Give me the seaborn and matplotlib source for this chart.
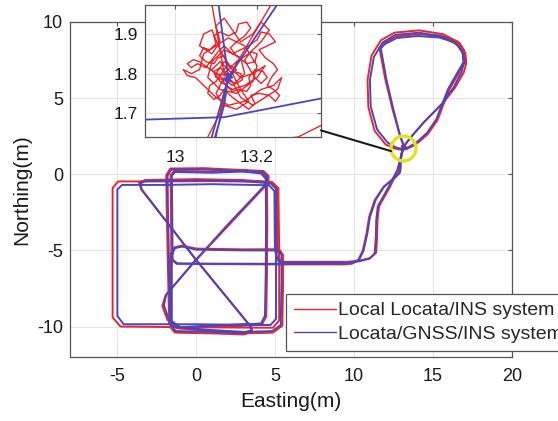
import matplotlib
matplotlib.use("Agg")
import matplotlib.pyplot as plt
import numpy as np
import pandas as pd
import seaborn as sns
from matplotlib.patches import ConnectionPatch
from matplotlib.lines import Line2D

# ---------------- data ----------------
series_names = ["Local Locata/INS system", "Locata/GNSS/INS system"]

# stationary start of the local Locata/INS solution (noise cluster seen in the inset)
local_static = [
    (13.130, 1.790), (13.150, 1.810), (13.120, 1.830), (13.100, 1.800), (13.140, 1.770),
    (13.170, 1.800), (13.160, 1.840), (13.120, 1.860), (13.090, 1.830), (13.080, 1.790),
    (13.110, 1.760), (13.150, 1.750), (13.190, 1.780), (13.200, 1.820), (13.170, 1.870),
    (13.130, 1.890), (13.100, 1.870), (13.070, 1.850), (13.060, 1.810), (13.040, 1.800),
    (13.020, 1.810), (13.030, 1.795), (13.050, 1.790), (13.070, 1.770), (13.100, 1.740),
    (13.130, 1.720), (13.170, 1.730), (13.210, 1.760), (13.240, 1.770), (13.260, 1.790),
    (13.250, 1.760), (13.220, 1.740), (13.190, 1.720), (13.160, 1.740), (13.140, 1.780),
    (13.120, 1.800), (13.150, 1.830), (13.180, 1.850), (13.210, 1.880), (13.230, 1.910),
    (13.210, 1.930), (13.190, 1.900), (13.160, 1.880), (13.140, 1.910), (13.120, 1.940),
    (13.100, 1.920), (13.110, 1.880), (13.090, 1.850), (13.060, 1.870), (13.070, 1.900),
    (13.090, 1.910), (13.110, 1.860), (13.130, 1.820), (13.160, 1.790), (13.190, 1.800),
    (13.220, 1.820), (13.200, 1.790), (13.170, 1.770), (13.140, 1.760), (13.110, 1.780),
    (13.090, 1.810), (13.110, 1.830), (13.140, 1.800), (13.160, 1.760), (13.180, 1.730),
    (13.150, 1.710), (13.120, 1.720), (13.100, 1.750), (13.120, 1.790), (13.130, 1.790),
    (13.145, 1.805), (13.160, 1.800), (13.165, 1.785), (13.150, 1.775), (13.135, 1.780),
    (13.125, 1.800), (13.110, 1.815), (13.095, 1.805), (13.100, 1.790), (13.115, 1.785),
    (13.125, 1.770), (13.140, 1.755), (13.155, 1.760), (13.175, 1.755), (13.185, 1.770),
    (13.180, 1.790), (13.195, 1.810), (13.215, 1.805), (13.225, 1.790), (13.210, 1.775),
    (13.195, 1.790), (13.180, 1.815), (13.170, 1.835), (13.185, 1.855), (13.200, 1.850),
    (13.195, 1.830), (13.175, 1.825), (13.150, 1.845), (13.135, 1.865), (13.150, 1.880),
    (13.170, 1.895), (13.185, 1.915), (13.175, 1.930), (13.155, 1.925), (13.150, 1.905),
    (13.130, 1.895), (13.110, 1.905), (13.095, 1.895), (13.100, 1.875), (13.085, 1.860),
    (13.070, 1.865), (13.060, 1.845), (13.075, 1.830), (13.095, 1.825), (13.105, 1.840),
    (13.120, 1.845), (13.130, 1.825), (13.120, 1.810), (13.100, 1.780), (13.085, 1.770),
    (13.080, 1.750), (13.095, 1.735), (13.110, 1.745), (13.120, 1.760), (13.140, 1.740),
    (13.160, 1.725), (13.180, 1.710), (13.195, 1.725), (13.185, 1.745), (13.205, 1.750),
    (13.230, 1.745), (13.245, 1.730), (13.255, 1.745), (13.240, 1.760), (13.225, 1.770),
    (13.235, 1.790), (13.250, 1.810), (13.240, 1.825), (13.220, 1.840), (13.205, 1.860),
    (13.225, 1.870), (13.245, 1.880), (13.230, 1.900), (13.210, 1.905), (13.200, 1.885),
    (13.180, 1.870), (13.160, 1.860), (13.140, 1.850), (13.120, 1.870), (13.105, 1.855),
    (13.090, 1.835), (13.075, 1.815), (13.055, 1.825), (13.040, 1.815), (13.030, 1.825),
    (13.045, 1.835), (13.060, 1.830), (13.080, 1.815), (13.100, 1.800), (13.125, 1.795),
    (13.130, 1.790),
]

local_track = [
    (13.11, 1.70), (13.08, 1.64), (12.98, 1.30), (12.92, 0.90), (12.90, 0.40), (12.85, 0.05),
    (12.60, -0.20), (11.85, -0.85), (11.30, -1.70), (10.95, -2.80), (10.78, -3.90),
    (10.55, -5.00), (10.25, -5.65), (9.85, -5.88), (9.40, -5.92),
    (5.00, -5.92), (1.00, -5.90), (-1.25, -5.88), (-1.58, -5.60),
    (-1.60, -3.00), (-1.63, -0.05), (-1.40, 0.22),
    (1.00, 0.18), (3.00, 0.25), (4.15, 0.12), (4.48, -0.25),
    (4.50, -3.00), (4.48, -6.50), (4.43, -9.35), (4.15, -9.88),
    (1.00, -10.02), (-1.20, -10.12), (-1.72, -9.85),
    (-1.80, -6.00), (-1.88, -2.00), (-1.90, -0.05), (-1.65, 0.38),
    (0.50, 0.40), (2.50, 0.30), (4.25, 0.22), (4.58, -0.10), (4.58, -0.55),
    (2.05, -3.35), (-0.12, -5.75), (-1.95, -7.95), (-2.15, -8.65), (-1.82, -9.58), (-1.05, -10.12),
    (0.50, -10.28), (3.00, -10.45), (4.85, -10.40), (5.45, -9.95),
    (5.50, -7.00), (5.50, -5.30), (5.25, -4.92),
    (3.00, -4.93), (0.00, -4.88), (-0.90, -4.68), (-1.40, -4.80), (-1.62, -5.30),
    (-1.62, -8.00), (-1.60, -10.10), (-1.35, -10.40),
    (1.00, -10.45), (3.00, -10.52), (3.55, -10.32),
    (3.45, -10.00), (0.00, -5.62), (-3.50, -0.98), (-3.62, -0.55), (-3.25, -0.38),
    (0.00, -0.32), (3.00, -0.38), (4.80, -0.52), (5.20, -0.90),
    (5.25, -5.00), (5.25, -9.60), (4.85, -10.08), (0.00, -10.05), (-4.80, -10.00),
    (-5.30, -9.40), (-5.30, -5.00), (-5.30, -0.90), (-4.95, -0.47), (-2.00, -0.47),
    (1.00, -0.45), (4.75, -0.50), (5.15, -1.00),
    (5.15, -5.00), (5.30, -5.72), (5.60, -5.75), (7.50, -5.75), (9.60, -5.75),
    (10.35, -5.66), (11.02, -5.50), (11.40, -5.15), (11.45, -4.20), (11.48, -3.00),
    (11.58, -2.10), (12.28, -0.80), (12.80, 0.30), (13.10, 1.64), (13.13, 1.79),
    (13.235, 1.975), (13.72, 2.60), (14.45, 3.45), (15.65, 4.70), (16.40, 5.70),
    (16.95, 6.70), (17.10, 7.30),
    (17.05, 7.95), (16.70, 8.60), (15.65, 9.20), (14.10, 9.45), (12.55, 9.30), (11.70, 8.80),
    (11.10, 7.80), (10.85, 6.20), (10.90, 4.40), (11.30, 2.85), (12.00, 1.95), (12.60, 1.68),
    (13.00, 1.60), (13.30, 1.64), (13.90, 1.95),
    (14.65, 2.62), (15.28, 3.55), (15.68, 4.65), (16.05, 5.60), (16.60, 6.60), (17.05, 7.45),
    (16.95, 8.15), (16.50, 8.75), (15.45, 9.10), (14.00, 9.20), (12.65, 9.05), (11.85, 8.60),
    (11.60, 8.30),
    (11.98, 6.20), (12.45, 4.20), (12.88, 2.60), (13.09, 1.975), (13.12, 1.80),
]

gnss_static = [
    (13.130, 1.790), (13.140, 1.800), (13.125, 1.795), (13.135, 1.780), (13.120, 1.785),
    (13.140, 1.790), (13.130, 1.800), (13.125, 1.780), (13.135, 1.795), (13.130, 1.790),
]

gnss_track = [
    (13.12, 1.72), (13.098, 1.641), (13.00, 1.35), (12.96, 0.90), (12.95, 0.40), (12.90, 0.10),
    (12.64, -0.15), (11.90, -0.80), (11.37, -1.67), (11.00, -2.80), (10.84, -3.86),
    (10.60, -5.00), (10.32, -5.60), (9.90, -5.82), (9.40, -5.86),
    (5.00, -5.88), (1.00, -5.87), (-1.20, -5.85), (-1.50, -5.60),
    (-1.52, -3.00), (-1.55, -0.10), (-1.35, 0.15),
    (1.00, 0.10), (3.00, 0.18), (4.10, 0.05), (4.40, -0.30),
    (4.42, -3.00), (4.40, -6.50), (4.35, -9.30), (4.10, -9.80),
    (1.00, -9.95), (-1.20, -10.05), (-1.65, -9.80),
    (-1.72, -6.00), (-1.80, -2.00), (-1.82, -0.10), (-1.60, 0.30),
    (0.50, 0.32), (2.50, 0.22), (4.20, 0.15), (4.50, -0.15), (4.50, -0.55),
    (2.00, -3.30), (-0.10, -5.70), (-1.90, -7.90), (-2.05, -8.60), (-1.75, -9.50), (-1.00, -10.05),
    (0.50, -10.20), (3.00, -10.35), (4.80, -10.30), (5.35, -9.90),
    (5.40, -7.00), (5.40, -5.30), (5.20, -5.00),
    (3.00, -5.00), (0.00, -4.95), (-0.90, -4.75), (-1.35, -4.85), (-1.55, -5.30),
    (-1.55, -8.00), (-1.55, -10.00), (-1.30, -10.30),
    (1.00, -10.35), (3.00, -10.42), (3.50, -10.25),
    (3.40, -9.95), (0.00, -5.65), (-3.45, -1.00), (-3.55, -0.60), (-3.20, -0.45),
    (0.00, -0.40), (3.00, -0.45), (4.70, -0.60), (5.05, -0.95),
    (5.05, -5.00), (5.05, -9.50), (4.70, -9.90), (0.00, -9.85), (-4.60, -9.85),
    (-5.00, -9.30), (-5.00, -5.00), (-5.00, -1.00), (-4.70, -0.70), (-2.00, -0.70),
    (1.00, -0.65), (4.60, -0.72), (4.95, -1.10),
    (4.98, -5.00), (5.20, -5.70), (5.60, -5.80), (7.50, -5.80), (9.58, -5.80),
    (10.30, -5.72), (10.95, -5.55), (11.30, -5.20), (11.37, -4.20), (11.40, -3.00),
    (11.50, -2.10), (12.20, -0.80), (12.74, 0.30), (13.09, 1.641), (13.13, 1.79),
    (13.25, 1.975), (13.70, 2.55), (14.40, 3.40), (15.60, 4.67), (16.30, 5.70),
    (16.80, 6.70), (16.95, 7.30),
    (16.90, 7.90), (16.55, 8.50), (15.60, 9.05), (14.10, 9.30), (12.60, 9.15), (11.80, 8.65),
    (11.25, 7.70), (11.00, 6.20), (11.05, 4.45), (11.45, 2.95), (12.10, 2.10), (12.60, 1.78),
    (12.93, 1.684), (13.12, 1.690), (13.36, 1.738),
    (13.90, 2.05), (14.60, 2.70), (15.20, 3.60), (15.60, 4.67), (15.95, 5.60), (16.50, 6.60),
    (16.95, 7.40),
    (16.85, 8.10), (16.40, 8.65), (15.40, 8.98), (14.00, 9.08), (12.70, 8.95), (11.95, 8.55),
    (11.69, 8.27),
    (12.05, 6.20), (12.50, 4.20), (12.90, 2.60), (13.106, 1.975), (13.13, 1.79),
]

xticks_main = [-5, 0, 5, 10, 15, 20]
yticks_main = [-10, -5, 0, 5, 10]
xlim_main = (-8, 20)
ylim_main = (-12, 10)
xticks_inset = [13, 13.2]
yticks_inset = [1.7, 1.8, 1.9]
xlim_inset = (12.927, 13.356)
ylim_inset = (1.640, 1.973)
zoom_center = (13.10, 1.70)
connector_end = (12.34, 1.52)

# ---------------- tables ----------------
local_pts = local_static + local_track
gnss_pts = gnss_static + gnss_track
df_local = pd.DataFrame(local_pts, columns=["E", "N"])
df_gnss = pd.DataFrame(gnss_pts, columns=["E", "N"])

RED = "#e8262b"
BLUE = "#4a45c0"
SPINE = "#555555"
GRID = "#e4e4e4"

sns.set_theme(style="white")
plt.rcParams["font.family"] = ["Liberation Sans", "DejaVu Sans"]
plt.rcParams["axes.unicode_minus"] = False

fig = plt.figure(figsize=(5.58, 4.21), dpi=100)
W, H = 558, 421
ax = fig.add_axes([70 / W, 1 - 357 / H, 442 / W, 335 / H])


def style_axes(a, fs):
    a.set_facecolor("white")
    a.grid(True, color=GRID, lw=0.8)
    a.set_axisbelow(True)
    for s in a.spines.values():
        s.set_color(SPINE)
        s.set_linewidth(0.9)
        s.set_visible(True)
    a.tick_params(direction="in", top=True, right=True, length=3, width=0.8,
                  color=SPINE, labelsize=fs, labelcolor="#1a1a1a")


sns.lineplot(data=df_local, x="E", y="N", sort=False, estimator=None,
             color=RED, lw=1.4, ax=ax, legend=False)
sns.lineplot(data=df_gnss, x="E", y="N", sort=False, estimator=None,
             color=BLUE, lw=1.4, ax=ax, legend=False)
style_axes(ax, 13)
ax.set_xlim(*xlim_main)
ax.set_ylim(*ylim_main)
ax.set_xticks(xticks_main)
ax.set_yticks(yticks_main)
ax.set_xticklabels([str(v) for v in xticks_main])
ax.set_yticklabels([str(v) for v in yticks_main])
ax.tick_params(axis="x", pad=8)
ax.tick_params(axis="y", pad=5)
ax.set_xlabel("Easting(m)", fontsize=15, labelpad=5, color="#1a1a1a")
ax.set_ylabel("Northing(m)", fontsize=15, labelpad=4, color="#1a1a1a")

# yellow zoom marker
ax.plot([zoom_center[0]], [zoom_center[1]], marker="o", ms=18, mfc="none",
        mec="#e2e21a", mew=2.4, zorder=6)

# inset
axin = fig.add_axes([145 / W, 1 - 137 / H, 176 / W, 132 / H])
sns.lineplot(data=df_local, x="E", y="N", sort=False, estimator=None,
             color=RED, lw=1.0, ax=axin, legend=False)
sns.lineplot(data=df_gnss, x="E", y="N", sort=False, estimator=None,
             color=BLUE, lw=1.3, ax=axin, legend=False)
style_axes(axin, 12.5)
axin.set_xlim(*xlim_inset)
axin.set_ylim(*ylim_inset)
axin.set_xticks(xticks_inset)
axin.set_yticks(yticks_inset)
axin.set_xticklabels(["13", "13.2"])
axin.set_yticklabels(["1.7", "1.8", "1.9"])
axin.tick_params(axis="x", pad=9)
axin.tick_params(axis="y", pad=5)
axin.set_xlabel("")
axin.set_ylabel("")

con = ConnectionPatch(xyA=(1.0, 0.05), coordsA=axin.transAxes,
                      xyB=connector_end, coordsB=ax.transData,
                      color="#1a1a1a", lw=1.5)
fig.add_artist(con)

handles = [Line2D([], [], color=RED, lw=1.0), Line2D([], [], color=BLUE, lw=1.0)]
leg = fig.legend(handles, series_names, loc="upper left",
                 bbox_to_anchor=(286 / W, 1 - 294 / H), bbox_transform=fig.transFigure,
                 frameon=True, fancybox=False, edgecolor=SPINE, framealpha=1,
                 fontsize=14, handlelength=2.15, handletextpad=0.15,
                 borderpad=0.4, labelspacing=0.3, borderaxespad=0)
leg.get_frame().set_linewidth(0.9)

fig.savefig("out.png", dpi=100)
